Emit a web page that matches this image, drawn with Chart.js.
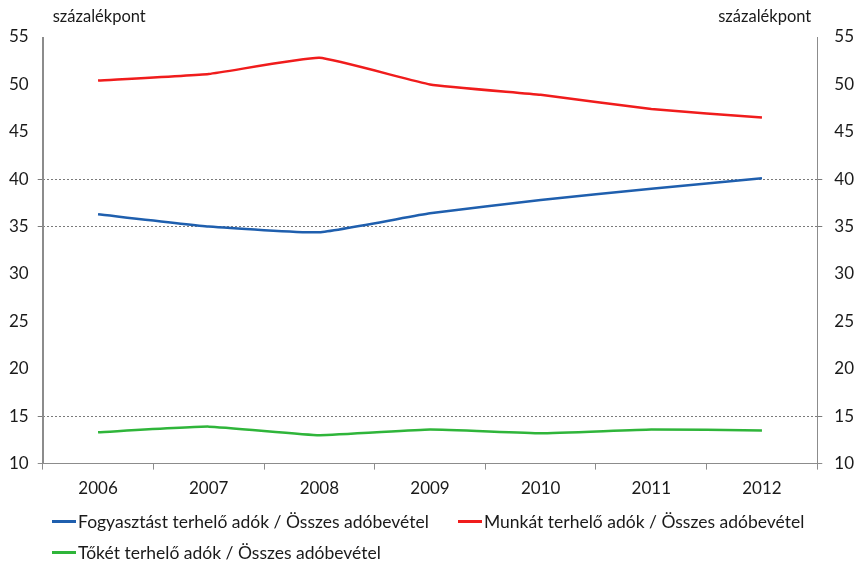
<!DOCTYPE html>
<html>
<head>
<meta charset="utf-8">
<script src="https://cdn.jsdelivr.net/npm/chart.js@4/dist/chart.umd.min.js"></script>
<style>
  html, body { margin: 0; padding: 0; background: #fff; }
  #wrap { position: relative; width: 858px; height: 565px; }
  #legend { position: absolute; left: 52px; top: 511px; width: 800px;
            font-family: Lato, "Open Sans", sans-serif; font-size: 17.5px; color: #1a1a1a; }
  #legend .item { position: absolute; white-space: nowrap; display: flex; align-items: center; }
  #legend .swatch { width: 24px; height: 2.5px; margin-right: 2px; }
</style>
</head>
<body>
<div id="wrap">
  <canvas id="chart" width="858" height="565"></canvas>
  <div id="legend"></div>
</div>
<script>
// Évek és az adóbevétel szerkezete (százalékpont)
const years = ['2006', '2007', '2008', '2009', '2010', '2011', '2012'];
const fogyasztas = [36.3, 35.0, 34.4, 36.4, 37.8, 39.0, 40.1];
const munka = [50.4, 51.1, 52.8, 50.0, 48.9, 47.4, 46.5];
const toke = [13.3, 13.9, 13.0, 13.6, 13.2, 13.6, 13.5];

const yTicks = [10, 15, 20, 25, 30, 35, 40, 45, 50, 55];
const gridLevels = [15, 35, 40];

const seriesLabels = [
    'Fogyasztást terhelő adók / Összes adóbevétel',
    'Munkát terhelő adók / Összes adóbevétel',
    'Tőkét terhelő adók / Összes adóbevétel'
];
const seriesColors = ['#1f5fae', '#f01c1c', '#2fb53a'];

const FONT = 'Lato, "Open Sans", sans-serif';
const TEXT = '#1a1a1a';
const AXIS = '#8c8c8c';

// csak néhány szinten van pontozott rácsvonal
const gridColor = ctx => {
    const v = ctx.tick && ctx.tick.value;
    if (v === 10) return AXIS;
    return gridLevels.includes(v) ? '#7a7a7a' : 'rgba(0,0,0,0)';
};

// "százalékpont" feliratok a két tengely fölött
const unitTitles = {
    id: 'unitTitles',
    afterDraw(chart) {
        const { ctx, chartArea } = chart;
        ctx.save();
        ctx.font = '16.5px ' + FONT;
        ctx.fillStyle = TEXT;
        ctx.textBaseline = 'alphabetic';
        ctx.textAlign = 'left';
        ctx.fillText('százalékpont', chartArea.left + 10, 22);
        ctx.textAlign = 'right';
        ctx.fillText('százalékpont', chartArea.right - 6, 22);
        ctx.restore();
    }
};

// a bal tengelyvonal folytonos, a rácsvonalak pontozottak
const solidLeftAxis = {
    id: 'solidLeftAxis',
    afterDraw(chart) {
        const { ctx, chartArea } = chart;
        ctx.save();
        ctx.strokeStyle = AXIS;
        ctx.lineWidth = 1;
        ctx.beginPath();
        ctx.moveTo(Math.round(chartArea.left) + 0.5, chartArea.top);
        ctx.lineTo(Math.round(chartArea.left) + 0.5, chartArea.bottom);
        ctx.stroke();
        ctx.restore();
    }
};

const datasets = [fogyasztas, munka, toke].map((data, i) => ({
    label: seriesLabels[i],
    data: data,
    borderColor: seriesColors[i],
    backgroundColor: seriesColors[i],
    borderWidth: 2.5,
    tension: 0.12,
    pointRadius: 0,
    fill: false,
    yAxisID: 'y'
}));

const tickFont = { family: FONT, size: 17 };

new Chart(document.getElementById('chart').getContext('2d'), {
    type: 'line',
    data: { labels: years, datasets: datasets },
    options: {
        responsive: false,
        animation: false,
        layout: { padding: { top: 37, left: 0, right: -8, bottom: 57 } },
        plugins: {
            legend: { display: false },
            tooltip: { enabled: false }
        },
        scales: {
            x: {
                offset: true,
                grid: { offset: true, drawOnChartArea: false, drawTicks: true, tickLength: 6, color: AXIS },
                border: { color: AXIS, width: 1 },
                ticks: { color: TEXT, font: tickFont, padding: 9 }
            },
            y: {
                position: 'left',
                min: 10, max: 55,
                afterBuildTicks: axis => { axis.ticks = yTicks.map(v => ({ value: v })); },
                grid: { color: gridColor, tickColor: gridColor, tickLength: 5, lineWidth: 1 },
                border: { color: AXIS, dash: [2, 2] },
                ticks: { color: TEXT, font: tickFont, padding: 9 }
            },
            y2: {
                position: 'right',
                min: 10, max: 55,
                afterBuildTicks: axis => { axis.ticks = yTicks.map(v => ({ value: v })); },
                grid: { drawOnChartArea: false, tickColor: gridColor, tickLength: 5 },
                border: { color: AXIS },
                ticks: { color: TEXT, font: tickFont, padding: 12 }
            }
        }
    },
    plugins: [unitTitles, solidLeftAxis]
});

// jelmagyarázat két oszlopban
const legend = document.getElementById('legend');
const legendPos = [[0, 0], [406, 0], [0, 31]];
datasets.forEach((ds, i) => {
    const item = document.createElement('div');
    item.className = 'item';
    item.style.left = legendPos[i][0] + 'px';
    item.style.top = legendPos[i][1] + 'px';
    const sw = document.createElement('span');
    sw.className = 'swatch';
    sw.style.background = ds.borderColor;
    const tx = document.createElement('span');
    tx.textContent = ds.label;
    item.appendChild(sw);
    item.appendChild(tx);
    legend.appendChild(item);
});
</script>
</body>
</html>
